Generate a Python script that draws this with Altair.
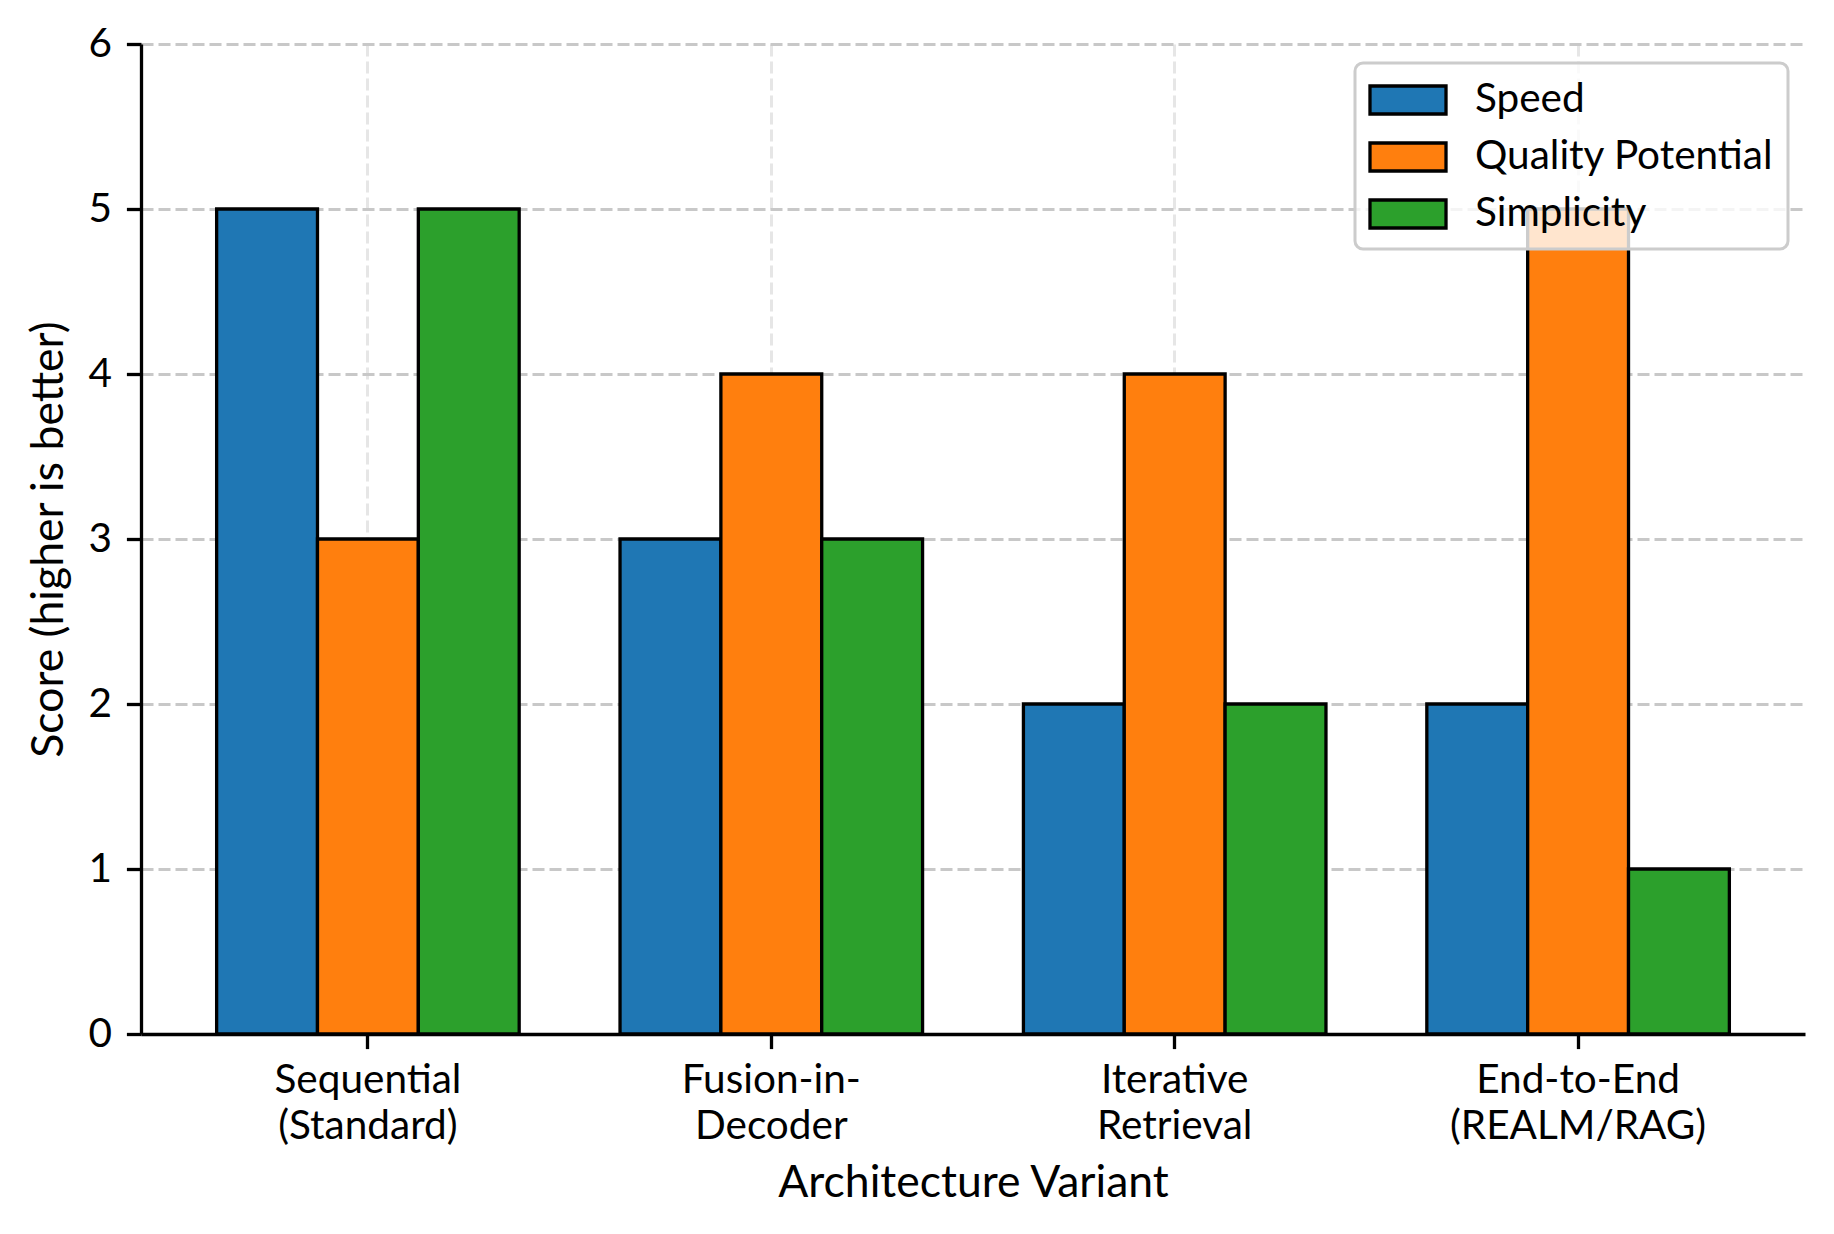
import altair as alt
import pandas as pd

categories = ["Sequential\n(Standard)", "Fusion-in-\nDecoder", "Iterative\nRetrieval", "End-to-End\n(REALM/RAG)"]
series = ["Speed", "Quality Potential", "Simplicity"]
speed = [5, 3, 2, 2]
quality = [3, 4, 4, 5]
simplicity = [5, 3, 2, 1]
colors = ["#1f77b4", "#ff7f0e", "#2ca02c"]
y_ticks = [0, 1, 2, 3, 4, 5, 6]

rows = []
for name, vals in zip(series, [speed, quality, simplicity]):
    for c, v in zip(categories, vals):
        rows.append({"Architecture": c, "Metric": name, "Score": v})
df = pd.DataFrame(rows)

FONT = "Lato"
W, H = 1664, 990
LBL = 40.5
TTL = 44.5

legend = alt.Legend(
    title=None, orient="none", legendX=1214, legendY=19,
    symbolType="M-1.81,-0.667L1.81,-0.667L1.81,0.667L-1.81,0.667Z", symbolSize=1764,
    symbolStrokeColor="black", symbolStrokeWidth=3.3, symbolOpacity=1, symbolOffset=16,
    labelFont=FONT, labelFontSize=LBL, labelColor="black", labelLimit=1000,
    labelOffset=44, fillColor="rgba(255,255,255,0.8)", strokeColor="#cccccc",
    cornerRadius=8, padding=14, rowPadding=13,
)

chart = alt.Chart(df).mark_bar(stroke="black", strokeWidth=3.3, opacity=1).encode(
    x=alt.X("Architecture:N", sort=categories,
            scale=alt.Scale(paddingInner=0.25, paddingOuter=0.1875),
            axis=alt.Axis(title="Architecture Variant", labelAngle=0,
                          labelExpr="split(datum.label, '\\n')", labelLimit=1000,
                          labelLineHeight=46, labelBaseline="top", labelPadding=12,
                          grid=True, gridColor="#e6e6e6", gridDash=[12, 5], gridWidth=3,
                          titleBaseline="alphabetic", titleY=162)),
    xOffset=alt.XOffset("Metric:N", sort=series, scale=alt.Scale(paddingInner=0, paddingOuter=0)),
    y=alt.Y("Score:Q", scale=alt.Scale(domain=[0, 6], nice=False),
            axis=alt.Axis(title="Score (higher is better)", values=y_ticks,
                          grid=True, gridColor="#c8c8c8", gridDash=[12, 5], gridWidth=3,
                          labelPadding=15, titleBaseline="alphabetic",
                          titleX=-79, titleY=H / 2, titleAngle=-90, titleAlign="center")),
    color=alt.Color("Metric:N", sort=series,
                    scale=alt.Scale(domain=series, range=colors), legend=legend),
).properties(
    width=W, height=H,
    autosize=alt.AutoSizeParams(type="none"),
    padding={"left": 133, "top": 36, "right": 10, "bottom": 180},
).configure_view(stroke=None).configure_axis(
    labelFont=FONT, titleFont=FONT, labelFontSize=LBL, titleFontSize=TTL,
    labelColor="black", titleColor="black", titleFontWeight="normal",
    domainColor="black", domainWidth=3.3, tickColor="black", tickWidth=3.3, tickSize=14.6,
).configure_legend(strokeWidth=3)

chart.save("out.html", embed_options={"renderer": "svg", "actions": False})
